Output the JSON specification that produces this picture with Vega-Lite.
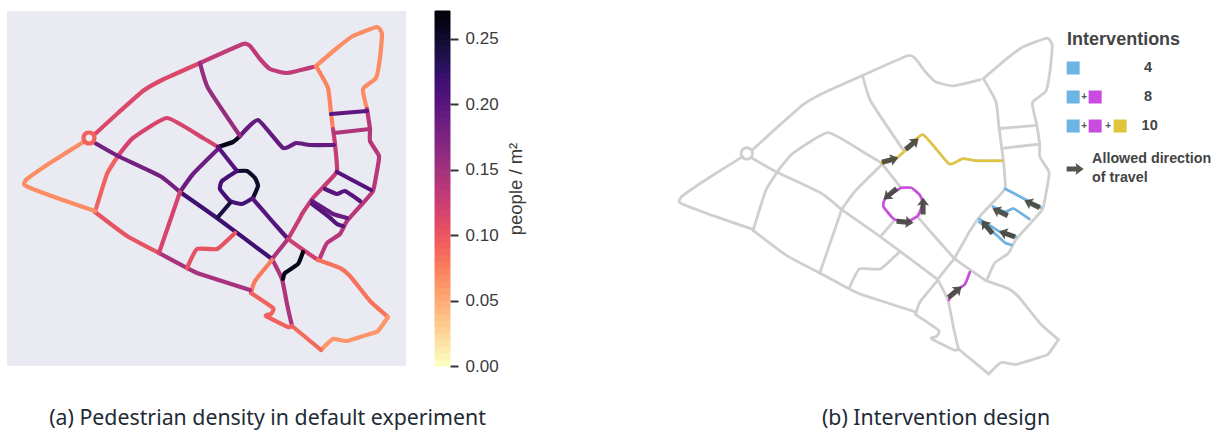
{"$schema":"https://vega.github.io/schema/vega-lite/v6.json","padding":{"left":7,"top":10,"right":0,"bottom":0},"background":"white","bounds":"flush","spacing":29,"config":{"view":{"stroke":null}},
"datasets":{"streets":[
{"seg":1,"i":0,"x":95,"y":133,"d":0.11},{"seg":1,"i":1,"x":118,"y":112,"d":0.11},{"seg":1,"i":2,"x":143,"y":90,"d":0.11},{"seg":1,"i":3,"x":162,"y":79,"d":0.11},{"seg":1,"i":4,"x":200,"y":62,"d":0.11},
{"seg":2,"i":0,"x":200,"y":62,"d":0.13},{"seg":2,"i":1,"x":243,"y":43,"d":0.13},{"seg":2,"i":2,"x":250,"y":45,"d":0.13},{"seg":2,"i":3,"x":260,"y":58,"d":0.13},{"seg":2,"i":4,"x":270,"y":68,"d":0.13},{"seg":2,"i":5,"x":287,"y":72,"d":0.13},{"seg":2,"i":6,"x":313,"y":66,"d":0.13},
{"seg":3,"i":0,"x":316,"y":65,"d":0.065},{"seg":3,"i":1,"x":337,"y":47,"d":0.065},{"seg":3,"i":2,"x":353,"y":35,"d":0.065},{"seg":3,"i":3,"x":377,"y":26,"d":0.065},{"seg":3,"i":4,"x":382,"y":33,"d":0.065},{"seg":3,"i":5,"x":380,"y":57,"d":0.065},{"seg":3,"i":6,"x":376,"y":77,"d":0.065},{"seg":3,"i":7,"x":363,"y":88,"d":0.065},{"seg":3,"i":8,"x":367,"y":108,"d":0.065},
{"seg":4,"i":0,"x":367,"y":108,"d":0.135},{"seg":4,"i":1,"x":370,"y":128,"d":0.135},{"seg":4,"i":2,"x":370,"y":140,"d":0.135},{"seg":4,"i":3,"x":379,"y":155,"d":0.135},{"seg":4,"i":4,"x":377,"y":170,"d":0.135},{"seg":4,"i":5,"x":373,"y":190,"d":0.135},{"seg":4,"i":6,"x":363,"y":202,"d":0.135},{"seg":4,"i":7,"x":347,"y":220,"d":0.135},{"seg":4,"i":8,"x":340,"y":233,"d":0.135},{"seg":4,"i":9,"x":327,"y":242,"d":0.135},{"seg":4,"i":10,"x":320,"y":257,"d":0.135},
{"seg":5,"i":0,"x":316,"y":65,"d":0.07},{"seg":5,"i":1,"x":328,"y":87,"d":0.07},{"seg":5,"i":2,"x":331,"y":112,"d":0.07},{"seg":5,"i":3,"x":333,"y":128,"d":0.07},
{"seg":6,"i":0,"x":333,"y":128,"d":0.125},{"seg":6,"i":1,"x":335,"y":143,"d":0.125},{"seg":6,"i":2,"x":337,"y":170,"d":0.125},{"seg":6,"i":3,"x":327,"y":182,"d":0.125},{"seg":6,"i":4,"x":313,"y":197,"d":0.125},{"seg":6,"i":5,"x":302,"y":213,"d":0.125},{"seg":6,"i":6,"x":300,"y":217,"d":0.125},{"seg":6,"i":7,"x":288,"y":238,"d":0.125},
{"seg":7,"i":0,"x":288,"y":238,"d":0.14},{"seg":7,"i":1,"x":272,"y":258,"d":0.14},
{"seg":8,"i":0,"x":331,"y":113,"d":0.195},{"seg":8,"i":1,"x":367,"y":110,"d":0.195},
{"seg":9,"i":0,"x":334,"y":132,"d":0.14},{"seg":9,"i":1,"x":370,"y":128,"d":0.14},
{"seg":10,"i":0,"x":337,"y":171,"d":0.2},{"seg":10,"i":1,"x":371,"y":189,"d":0.2},
{"seg":11,"i":0,"x":325,"y":188,"d":0.2},{"seg":11,"i":1,"x":337,"y":193,"d":0.2},{"seg":11,"i":2,"x":345,"y":190,"d":0.2},{"seg":11,"i":3,"x":360,"y":200,"d":0.2},
{"seg":12,"i":0,"x":312,"y":200,"d":0.19},{"seg":12,"i":1,"x":325,"y":208,"d":0.19},{"seg":12,"i":2,"x":333,"y":213,"d":0.19},{"seg":12,"i":3,"x":347,"y":217,"d":0.19},
{"seg":13,"i":0,"x":312,"y":203,"d":0.2},{"seg":13,"i":1,"x":328,"y":215,"d":0.2},{"seg":13,"i":2,"x":337,"y":223,"d":0.2},{"seg":13,"i":3,"x":343,"y":225,"d":0.2},
{"seg":14,"i":0,"x":240,"y":135,"d":0.19},{"seg":14,"i":1,"x":258,"y":119,"d":0.19},{"seg":14,"i":2,"x":283,"y":147,"d":0.19},{"seg":14,"i":3,"x":296,"y":142,"d":0.19},{"seg":14,"i":4,"x":310,"y":144,"d":0.19},{"seg":14,"i":5,"x":334,"y":144,"d":0.19},
{"seg":15,"i":0,"x":218,"y":146,"d":0.26},{"seg":15,"i":1,"x":233,"y":141,"d":0.26},{"seg":15,"i":2,"x":240,"y":135,"d":0.26},
{"seg":16,"i":0,"x":200,"y":62,"d":0.155},{"seg":16,"i":1,"x":208,"y":87,"d":0.155},{"seg":16,"i":2,"x":240,"y":135,"d":0.155},
{"seg":17,"i":0,"x":95,"y":211,"d":0.09},{"seg":17,"i":1,"x":107,"y":173,"d":0.09},{"seg":17,"i":2,"x":118,"y":155,"d":0.09},
{"seg":18,"i":0,"x":118,"y":155,"d":0.115},{"seg":18,"i":1,"x":133,"y":137,"d":0.115},{"seg":18,"i":2,"x":167,"y":117,"d":0.115},{"seg":18,"i":3,"x":203,"y":137,"d":0.115},{"seg":18,"i":4,"x":218,"y":146,"d":0.115},
{"seg":19,"i":0,"x":95,"y":142,"d":0.18},{"seg":19,"i":1,"x":118,"y":155,"d":0.18},{"seg":19,"i":2,"x":160,"y":175,"d":0.18},{"seg":19,"i":3,"x":180,"y":191,"d":0.18},
{"seg":20,"i":0,"x":180,"y":191,"d":0.215},{"seg":20,"i":1,"x":217,"y":217,"d":0.215},{"seg":20,"i":2,"x":272,"y":258,"d":0.215},
{"seg":21,"i":0,"x":218,"y":148,"d":0.185},{"seg":21,"i":1,"x":193,"y":173,"d":0.185},{"seg":21,"i":2,"x":180,"y":191,"d":0.185},
{"seg":22,"i":0,"x":218,"y":146,"d":0.2},{"seg":22,"i":1,"x":237,"y":170,"d":0.2},
{"seg":23,"i":0,"x":237,"y":170,"d":0.25},{"seg":23,"i":1,"x":247,"y":170,"d":0.25},{"seg":23,"i":2,"x":255,"y":177,"d":0.25},{"seg":23,"i":3,"x":258,"y":185,"d":0.25},{"seg":23,"i":4,"x":253,"y":197,"d":0.25},
{"seg":24,"i":0,"x":253,"y":197,"d":0.21},{"seg":24,"i":1,"x":242,"y":203,"d":0.21},{"seg":24,"i":2,"x":230,"y":200,"d":0.21},{"seg":24,"i":3,"x":220,"y":188,"d":0.21},{"seg":24,"i":4,"x":222,"y":180,"d":0.21},{"seg":24,"i":5,"x":237,"y":170,"d":0.21},
{"seg":25,"i":0,"x":230,"y":202,"d":0.24},{"seg":25,"i":1,"x":218,"y":216,"d":0.24},
{"seg":26,"i":0,"x":253,"y":198,"d":0.2},{"seg":26,"i":1,"x":272,"y":220,"d":0.2},{"seg":26,"i":2,"x":288,"y":238,"d":0.2},
{"seg":27,"i":0,"x":288,"y":238,"d":0.12},{"seg":27,"i":1,"x":302,"y":248,"d":0.12},{"seg":27,"i":2,"x":318,"y":259,"d":0.12},
{"seg":28,"i":0,"x":318,"y":259,"d":0.08},{"seg":28,"i":1,"x":340,"y":267,"d":0.08},{"seg":28,"i":2,"x":350,"y":275,"d":0.08},{"seg":28,"i":3,"x":370,"y":300,"d":0.08},{"seg":28,"i":4,"x":388,"y":316,"d":0.08},
{"seg":29,"i":0,"x":388,"y":316,"d":0.06},{"seg":29,"i":1,"x":378,"y":330,"d":0.06},{"seg":29,"i":2,"x":370,"y":333,"d":0.06},{"seg":29,"i":3,"x":347,"y":340,"d":0.06},{"seg":29,"i":4,"x":333,"y":338,"d":0.06},{"seg":29,"i":5,"x":321,"y":349,"d":0.06},
{"seg":30,"i":0,"x":321,"y":349,"d":0.085},{"seg":30,"i":1,"x":292,"y":325,"d":0.085},
{"seg":31,"i":0,"x":272,"y":258,"d":0.14},{"seg":31,"i":1,"x":282,"y":278,"d":0.14},{"seg":31,"i":2,"x":287,"y":303,"d":0.14},{"seg":31,"i":3,"x":292,"y":325,"d":0.14},
{"seg":32,"i":0,"x":303,"y":251,"d":0.26},{"seg":32,"i":1,"x":298,"y":263,"d":0.26},{"seg":32,"i":2,"x":285,"y":272,"d":0.26},{"seg":32,"i":3,"x":283,"y":278,"d":0.26},
{"seg":33,"i":0,"x":272,"y":259,"d":0.075},{"seg":33,"i":1,"x":255,"y":280,"d":0.075},{"seg":33,"i":2,"x":251,"y":292,"d":0.075},
{"seg":34,"i":0,"x":251,"y":292,"d":0.09},{"seg":34,"i":1,"x":273,"y":307,"d":0.09},{"seg":34,"i":2,"x":271,"y":313,"d":0.09},{"seg":34,"i":3,"x":266,"y":315,"d":0.09},{"seg":34,"i":4,"x":288,"y":326,"d":0.09},{"seg":34,"i":5,"x":292,"y":325,"d":0.09},
{"seg":35,"i":0,"x":95,"y":211,"d":0.1},{"seg":35,"i":1,"x":127,"y":235,"d":0.1},{"seg":35,"i":2,"x":159,"y":252,"d":0.1},
{"seg":36,"i":0,"x":159,"y":252,"d":0.145},{"seg":36,"i":1,"x":187,"y":267,"d":0.145},{"seg":36,"i":2,"x":200,"y":273,"d":0.145},{"seg":36,"i":3,"x":250,"y":289,"d":0.145},
{"seg":37,"i":0,"x":180,"y":191,"d":0.115},{"seg":37,"i":1,"x":170,"y":220,"d":0.115},{"seg":37,"i":2,"x":159,"y":252,"d":0.115},
{"seg":38,"i":0,"x":235,"y":232,"d":0.1},{"seg":38,"i":1,"x":217,"y":248,"d":0.1},{"seg":38,"i":2,"x":197,"y":248,"d":0.1},{"seg":38,"i":3,"x":187,"y":267,"d":0.1},
{"seg":39,"i":0,"x":85,"y":140,"d":0.065},{"seg":39,"i":1,"x":50,"y":162,"d":0.065},{"seg":39,"i":2,"x":27,"y":178,"d":0.065},{"seg":39,"i":3,"x":24,"y":183,"d":0.065},{"seg":39,"i":4,"x":28,"y":186,"d":0.065},{"seg":39,"i":5,"x":60,"y":198,"d":0.065},{"seg":39,"i":6,"x":95,"y":210,"d":0.065},
{"seg":40,"i":0,"x":94.5,"y":137,"d":0.09},{"seg":40,"i":1,"x":93.8,"y":139.8,"d":0.09},{"seg":40,"i":2,"x":91.8,"y":141.8,"d":0.09},{"seg":40,"i":3,"x":89,"y":142.5,"d":0.09},{"seg":40,"i":4,"x":86.2,"y":141.8,"d":0.09},{"seg":40,"i":5,"x":84.2,"y":139.8,"d":0.09},{"seg":40,"i":6,"x":83.5,"y":137,"d":0.09},{"seg":40,"i":7,"x":84.2,"y":134.2,"d":0.09},{"seg":40,"i":8,"x":86.2,"y":132.2,"d":0.09},{"seg":40,"i":9,"x":89,"y":131.5,"d":0.09},{"seg":40,"i":10,"x":91.8,"y":132.2,"d":0.09},{"seg":40,"i":11,"x":93.8,"y":134.2,"d":0.09},{"seg":40,"i":12,"x":94.5,"y":137,"d":0.09}
],
"interventions":[
{"seg":10,"i":0,"x":337,"y":171,"kind":"blue"},{"seg":10,"i":1,"x":371,"y":189,"kind":"blue"},
{"seg":11,"i":0,"x":325,"y":188,"kind":"blue"},{"seg":11,"i":1,"x":337,"y":193,"kind":"blue"},{"seg":11,"i":2,"x":345,"y":190,"kind":"blue"},{"seg":11,"i":3,"x":360,"y":200,"kind":"blue"},
{"seg":12,"i":0,"x":312,"y":200,"kind":"blue"},{"seg":12,"i":1,"x":325,"y":208,"kind":"blue"},{"seg":12,"i":2,"x":333,"y":213,"kind":"blue"},{"seg":12,"i":3,"x":347,"y":217,"kind":"blue"},
{"seg":13,"i":0,"x":312,"y":203,"kind":"blue"},{"seg":13,"i":1,"x":328,"y":215,"kind":"blue"},{"seg":13,"i":2,"x":337,"y":223,"kind":"blue"},{"seg":13,"i":3,"x":343,"y":225,"kind":"blue"},
{"seg":23,"i":0,"x":237,"y":170,"kind":"magenta"},{"seg":23,"i":1,"x":247,"y":170,"kind":"magenta"},{"seg":23,"i":2,"x":255,"y":177,"kind":"magenta"},{"seg":23,"i":3,"x":258,"y":185,"kind":"magenta"},{"seg":23,"i":4,"x":253,"y":197,"kind":"magenta"},{"seg":23,"i":5,"x":242,"y":203,"kind":"magenta"},{"seg":23,"i":6,"x":230,"y":200,"kind":"magenta"},{"seg":23,"i":7,"x":220,"y":188,"kind":"magenta"},{"seg":23,"i":8,"x":222,"y":180,"kind":"magenta"},{"seg":23,"i":9,"x":237,"y":170,"kind":"magenta"},
{"seg":32,"i":0,"x":303,"y":251,"kind":"magenta"},{"seg":32,"i":1,"x":298,"y":263,"kind":"magenta"},{"seg":32,"i":2,"x":285,"y":272,"kind":"magenta"},{"seg":32,"i":3,"x":283,"y":278,"kind":"magenta"},
{"seg":14,"i":0,"x":218,"y":146,"kind":"yellow"},{"seg":14,"i":1,"x":233,"y":141,"kind":"yellow"},{"seg":14,"i":2,"x":240,"y":135,"kind":"yellow"},{"seg":14,"i":3,"x":258,"y":119,"kind":"yellow"},{"seg":14,"i":4,"x":283,"y":147,"kind":"yellow"},{"seg":14,"i":5,"x":296,"y":142,"kind":"yellow"},{"seg":14,"i":6,"x":310,"y":144,"kind":"yellow"},{"seg":14,"i":7,"x":334,"y":144,"kind":"yellow"}
],
"arrows":[
{"x":226.5,"y":143.3,"heading":345},{"x":247.6,"y":127.9,"heading":320},{"x":226.5,"y":176,"heading":140},{"x":258.1,"y":187.5,"heading":270},{"x":240.8,"y":202.9,"heading":5},{"x":362.7,"y":185.6,"heading":205},{"x":332,"y":193.3,"heading":205},{"x":319.5,"y":207.7,"heading":230},{"x":338.7,"y":214.5,"heading":200},{"x":288.8,"y":270.2,"heading":320},{"x":404,"y":152,"heading":0}
],
"swatches":[
{"x":402.1,"y":54.8,"kind":"blue"},{"x":402.1,"y":82.7,"kind":"blue"},{"x":423.2,"y":82.7,"kind":"magenta"},{"x":402.1,"y":110.6,"kind":"blue"},{"x":423.2,"y":110.6,"kind":"magenta"},{"x":447.2,"y":110.6,"kind":"yellow"}
],
"legendText":[
{"x":396.3,"y":27.9,"label":"Interventions","role":"head"},
{"x":474,"y":54.8,"label":"4","role":"count"},{"x":474,"y":82.7,"label":"8","role":"count"},{"x":475.5,"y":110.6,"label":"10","role":"count"},
{"x":412.6,"y":82.7,"label":"+","role":"plus"},{"x":412.6,"y":110.6,"label":"+","role":"plus"},{"x":435.7,"y":110.6,"label":"+","role":"plus"},
{"x":420.3,"y":142.3,"label":"Allowed direction","role":"note"},{"x":420.3,"y":160.6,"label":"of travel","role":"note"}
],
"ramp":[
{"v":0,"v2":0.005},{"v":0.005,"v2":0.01},{"v":0.01,"v2":0.015},{"v":0.015,"v2":0.02},{"v":0.02,"v2":0.025},{"v":0.025,"v2":0.03},{"v":0.03,"v2":0.035},{"v":0.035,"v2":0.04},{"v":0.04,"v2":0.045},{"v":0.045,"v2":0.05},{"v":0.05,"v2":0.055},{"v":0.055,"v2":0.06},{"v":0.06,"v2":0.065},{"v":0.065,"v2":0.07},{"v":0.07,"v2":0.075},{"v":0.075,"v2":0.08},{"v":0.08,"v2":0.085},{"v":0.085,"v2":0.09},{"v":0.09,"v2":0.095},{"v":0.095,"v2":0.1},{"v":0.1,"v2":0.105},{"v":0.105,"v2":0.11},{"v":0.11,"v2":0.115},{"v":0.115,"v2":0.12},{"v":0.12,"v2":0.125},{"v":0.125,"v2":0.13},{"v":0.13,"v2":0.135},{"v":0.135,"v2":0.14},{"v":0.14,"v2":0.145},{"v":0.145,"v2":0.15},{"v":0.15,"v2":0.155},{"v":0.155,"v2":0.16},{"v":0.16,"v2":0.165},{"v":0.165,"v2":0.17},{"v":0.17,"v2":0.175},{"v":0.175,"v2":0.18},{"v":0.18,"v2":0.185},{"v":0.185,"v2":0.19},{"v":0.19,"v2":0.195},{"v":0.195,"v2":0.2},{"v":0.2,"v2":0.205},{"v":0.205,"v2":0.21},{"v":0.21,"v2":0.215},{"v":0.215,"v2":0.22},{"v":0.22,"v2":0.225},{"v":0.225,"v2":0.23},{"v":0.23,"v2":0.235},{"v":0.235,"v2":0.24},{"v":0.24,"v2":0.245},{"v":0.245,"v2":0.25},{"v":0.25,"v2":0.255},{"v":0.255,"v2":0.26},{"v":0.26,"v2":0.265},{"v":0.265,"v2":0.2714}
]},
"hconcat":[
{"width":399,"height":355,"view":{"fill":"#e9eaf2","stroke":null},
"title":{"text":"(a) Pedestrian density in default experiment","orient":"bottom","anchor":"middle","dx":61,"offset":42,"font":"Noto Sans","fontSize":21.3,"fontWeight":"normal","color":"#222b36"},
"data":{"name":"streets"},
"mark":{"type":"line","strokeWidth":4.2,"strokeCap":"round","strokeJoin":"round","interpolate":"cardinal","tension":0.55},
"encoding":{"x":{"field":"x","type":"quantitative","axis":null,"scale":{"domain":[7,406],"nice":false,"zero":false}},"y":{"field":"y","type":"quantitative","axis":null,"scale":{"domain":[10,365],"reverse":true,"nice":false,"zero":false}},"detail":{"field":"seg"},"order":{"field":"i"},"color":{"field":"d","type":"quantitative","legend":null,"scale":{"scheme":"magma","reverse":true,"domain":[0,0.2714]}}}},
{"width":15,"height":355,"data":{"name":"ramp"},
"mark":{"type":"rect","strokeWidth":1},
"encoding":{"y":{"field":"v","type":"quantitative","scale":{"domain":[0,0.2714],"nice":false,"zero":false},"axis":{"orient":"right","values":[0,0.05,0.1,0.15,0.2,0.25],"format":".2f","domain":false,"grid":false,"tickColor":"#333333","tickSize":8,"tickWidth":2,"tickOffset":0,"labelPadding":7,"labelFont":"Liberation Sans","labelFontSize":17,"labelColor":"#3a3a3a","title":"people / m²","titleFont":"Liberation Sans","titleFontSize":18.5,"titleFontWeight":"normal","titleColor":"#3a3a3a","titleAngle":270,"titlePadding":27}},"y2":{"field":"v2"},"color":{"field":"v","type":"quantitative","legend":null,"scale":{"scheme":"magma","reverse":true,"domain":[0,0.2714]}},"stroke":{"field":"v","type":"quantitative","legend":null,"scale":{"scheme":"magma","reverse":true,"domain":[0,0.2714]}}}},
{"width":741,"height":380,
"title":{"text":"(b) Intervention design","orient":"bottom","anchor":"middle","dx":86.5,"offset":17,"font":"Noto Sans","fontSize":21.3,"fontWeight":"normal","color":"#222b36"},
"encoding":{"x":{"field":"x","type":"quantitative","axis":null,"scale":{"domain":[-168,543],"nice":false,"zero":false}},"y":{"field":"y","type":"quantitative","axis":null,"scale":{"domain":[0,365.4],"reverse":true,"nice":false,"zero":false}}},
"layer":[
{"data":{"name":"streets"},"mark":{"type":"line","strokeWidth":2.8,"color":"#cfcfcf","strokeCap":"round","strokeJoin":"round","interpolate":"cardinal","tension":0.55},"encoding":{"detail":{"field":"seg"},"order":{"field":"i"}}},
{"data":{"name":"interventions"},"mark":{"type":"line","strokeWidth":2.5,"strokeCap":"round","strokeJoin":"round","interpolate":"cardinal","tension":0.55},"encoding":{"detail":{"field":"seg"},"order":{"field":"i"},"color":{"field":"kind","type":"nominal","legend":null,"scale":{"domain":["blue","magenta","yellow"],"range":["#6cb4e4","#c94be0","#e0c43c"]}}}},
{"data":{"name":"arrows"},"mark":{"type":"point","filled":true,"opacity":0.92,"color":"#47473f","shape":"M-1,-0.3 L0.15,-0.3 L0.05,-0.7 L1,0 L0.05,0.7 L0.15,0.3 L-1,0.3 Z","size":289},"encoding":{"angle":{"field":"heading","type":"quantitative","scale":null}}},
{"data":{"name":"swatches"},"mark":{"type":"point","filled":true,"opacity":1,"shape":"square","size":169},"encoding":{"color":{"field":"kind","type":"nominal","legend":null,"scale":{"domain":["blue","magenta","yellow"],"range":["#6cb4e4","#d93fe2","#e0c43c"]}}}},
{"data":{"name":"legendText"},"transform":[{"filter":"datum.role==='head'"}],"mark":{"type":"text","align":"left","baseline":"middle","font":"Liberation Sans","fontWeight":"bold","fontSize":18,"color":"#444444"},"encoding":{"text":{"field":"label"}}},
{"data":{"name":"legendText"},"transform":[{"filter":"datum.role==='count'"}],"mark":{"type":"text","align":"center","baseline":"middle","font":"Liberation Sans","fontWeight":"bold","fontSize":14.5,"color":"#444444"},"encoding":{"text":{"field":"label"}}},
{"data":{"name":"legendText"},"transform":[{"filter":"datum.role==='plus'"}],"mark":{"type":"text","align":"center","baseline":"middle","font":"Liberation Sans","fontWeight":"bold","fontSize":10,"color":"#555555"},"encoding":{"text":{"field":"label"}}},
{"data":{"name":"legendText"},"transform":[{"filter":"datum.role==='note'"}],"mark":{"type":"text","align":"left","baseline":"middle","font":"Liberation Sans","fontWeight":"bold","fontSize":14.3,"color":"#444444"},"encoding":{"text":{"field":"label"}}}
]}
]}
